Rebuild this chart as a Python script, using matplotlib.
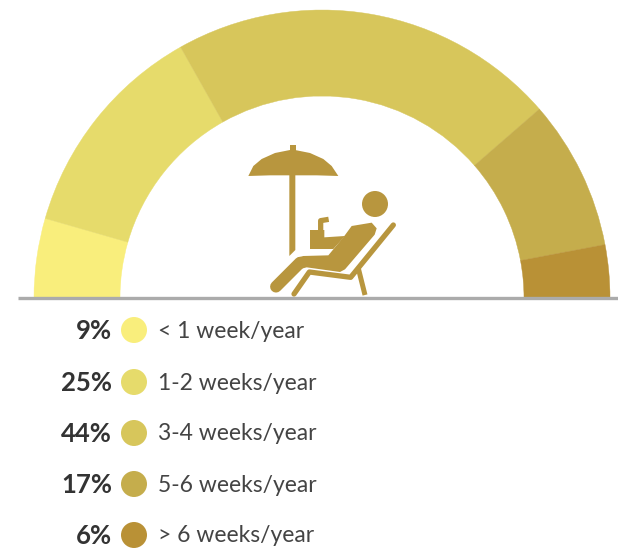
import matplotlib
matplotlib.use("Agg")
import matplotlib.pyplot as plt
from matplotlib.patches import Wedge, Circle, Polygon

plt.rcParams['font.family'] = ['Lato', 'DejaVu Sans']

# data
categorias = ['< 1 week/year', '1-2 weeks/year', '3-4 weeks/year', '5-6 weeks/year', '> 6 weeks/year']
porcentagens = [9, 25, 44, 17, 6]
cores = ['#F9EE7C', '#E6DB6B', '#D7C65B', '#C5AD4C', '#B99136']
cor_icone = '#B8963E'

H = 550
fig = plt.figure(figsize=(6.18, 5.5), dpi=100)
ax = fig.add_axes([0, 0, 1, 1])
ax.set_xlim(0, 618)
ax.set_ylim(0, H)
ax.axis('off')

cx, cy = 322, H - 298
r_fora, r_dentro = 288, 202

# half donut
total = sum(porcentagens)
ang = 180
for valor, cor in zip(porcentagens, cores):
    passo = valor / total * 180
    ax.add_patch(Wedge((cx, cy), r_fora, ang - passo, ang, width=r_fora - r_dentro,
                       facecolor=cor, edgecolor=cor, linewidth=0.3))
    ang -= passo

ax.plot([18, 618], [cy, cy], color='#ABABAB', linewidth=2.4, solid_capstyle='butt')


# icon outlines were traced at 3x around (230, 130)
def px(pontos):
    return [(x / 3 + 230, H - (y / 3 + 130)) for x, y in pontos]


def forma(pontos):
    ax.add_patch(Polygon(px(pontos), closed=True, facecolor=cor_icone, edgecolor='none'))


def traco(pontos, larg, cap='round'):
    xs, ys = zip(*px(pontos))
    ax.plot(xs, ys, color=cor_icone, linewidth=larg, solid_capstyle=cap, solid_joinstyle='round')


# umbrella
forma([(55, 138), (70, 108), (95, 87), (135, 69), (180, 60), (195, 60), (240, 69), (280, 87), (305, 108),
       (325, 138), (260, 136), (190, 136), (120, 136)])
forma([(180, 46), (197, 46), (197, 62), (180, 62)])
forma([(178, 125), (196, 125), (196, 360), (178, 378)])

# person
ax.add_patch(Circle((230 + 435 / 3, H - (130 + 222 / 3)), 13, facecolor=cor_icone, edgecolor='none'))
forma([(205, 382), (220, 378), (295, 376), (340, 322), (365, 288), (425, 278), (440, 295),
       (434, 314), (345, 418), (330, 426), (230, 412), (215, 416), (150, 480), (135, 470)])
traco([(138, 470), (210, 398)], 8.5)
# arm and drink
forma([(240, 300), (283, 300), (283, 322), (345, 318), (310, 357), (240, 357)])
traco([(272, 305), (272, 272), (296, 268)], 3.8, cap='butt')

# chair
traco([(490, 285), (362, 442), (238, 426), (192, 492)], 3.8)
traco([(385, 415), (405, 495)], 3.6, cap='butt')

# legend
y_leg = [330, 382, 433, 484, 535]
for y, valor, nome, cor in zip(y_leg, porcentagens, categorias, cores):
    ax.add_patch(Circle((134, H - y), 13, facecolor=cor, edgecolor='none'))
    ax.text(112, H - y - 1, f'{valor}%', ha='right', va='center', fontsize=18.5, fontweight='bold', color='#333333')
    ax.text(158, H - y - 1, nome, ha='left', va='center', fontsize=16.5, color='#444444')

fig.savefig('out.png', dpi=100)
